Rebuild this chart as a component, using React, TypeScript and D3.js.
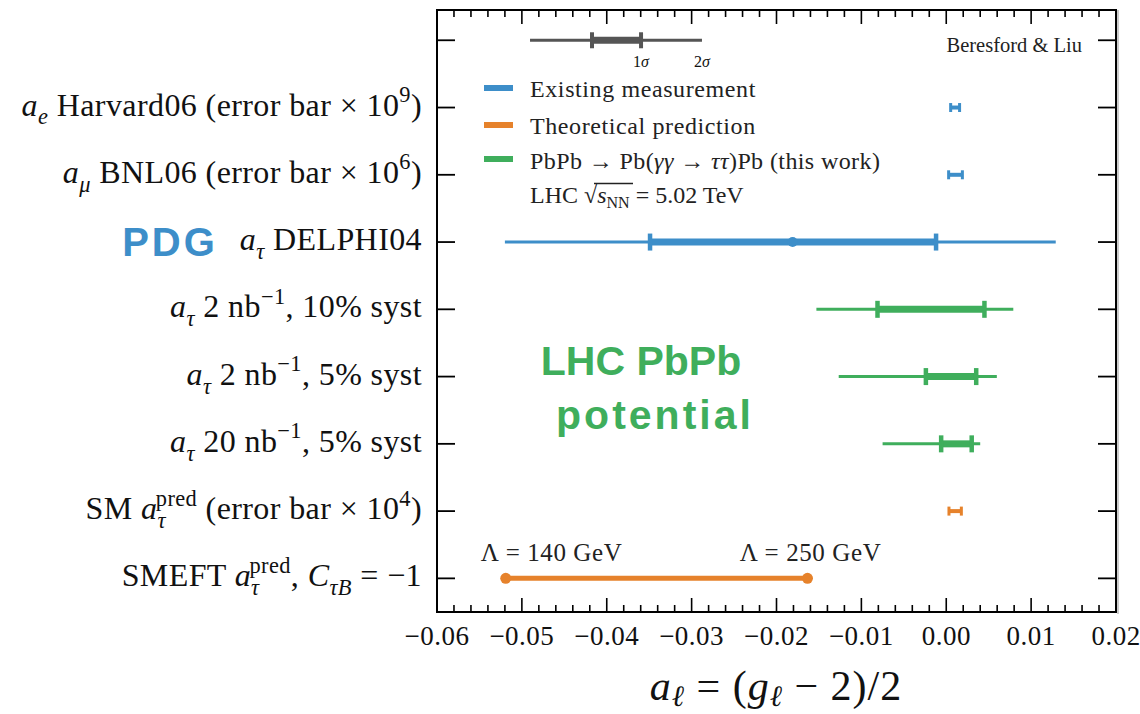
import React from "react";
import * as d3 from "d3";

// ---------- data ----------
const xTicks = [-0.06, -0.05, -0.04, -0.03, -0.02, -0.01, 0.0, 0.01, 0.02];
const xTickLabels = ["\u22120.06", "\u22120.05", "\u22120.04", "\u22120.03", "\u22120.02", "\u22120.01", "0.00", "0.01", "0.02"];
const rowTicks = [0, 1, 2, 3, 4, 5, 6, 7, 8];

// error-bar rows: 1 ae, 2 amu, 3 DELPHI, 4-6 LHC projections, 7 SM prediction
const barRows = [1, 2, 3, 4, 5, 6, 7];
const barSeries = ["meas", "meas", "meas", "lhc", "lhc", "lhc", "theo"];
const barStyle = ["small", "small", "full", "full", "full", "full", "small"];
const barCenter = [null, null, -0.0181, null, null, null, null];
const innerLo = [0.00052, 0.00028, -0.0349, -0.0081, -0.0024, -0.0006, 0.00032];
const innerHi = [0.00157, 0.0019, -0.0012, 0.0045, 0.00353, 0.003, 0.00178];
const outerLo = [null, null, -0.052, -0.0153, -0.01267, -0.0075, null];
const outerHi = [null, null, 0.0129, 0.0079, 0.00596, 0.004, null];

// SMEFT band (row 8)
const smeftRow = 8;
const smeftLo = -0.0519;
const smeftHi = -0.01635;

// sigma legend (row 0)
const sigmaOuter = [-0.04904, -0.02878];
const sigmaInner = [-0.04174, -0.03596];

const seriesColor: Record<string, string> = { meas: "#3d8ec9", theo: "#e6822b", lhc: "#3fae5c" };
const legendNames = ["Existing measurement", "Theoretical prediction"];

type Seg = { t: string; it?: boolean; sub?: boolean; sup?: boolean; dx?: number };
const rowLabels: Seg[][] = [
  [{ t: "a", it: true }, { t: "e", it: true, sub: true }, { t: " Harvard06 (error bar \u00d7 10" }, { t: "9", sup: true }, { t: ")" }],
  [{ t: "a", it: true }, { t: "\u03bc", it: true, sub: true }, { t: " BNL06 (error bar \u00d7 10" }, { t: "6", sup: true }, { t: ")" }],
  [{ t: "a", it: true }, { t: "\u03c4", it: true, sub: true }, { t: " DELPHI04" }],
  [{ t: "a", it: true }, { t: "\u03c4", it: true, sub: true }, { t: " 2 nb" }, { t: "\u22121", sup: true }, { t: ",  10% syst" }],
  [{ t: "a", it: true }, { t: "\u03c4", it: true, sub: true }, { t: " 2 nb" }, { t: "\u22121", sup: true }, { t: ",  5% syst" }],
  [{ t: "a", it: true }, { t: "\u03c4", it: true, sub: true }, { t: " 20 nb" }, { t: "\u22121", sup: true }, { t: ",  5% syst" }],
  [{ t: "SM " }, { t: "a", it: true }, { t: "\u03c4", it: true, sub: true }, { t: "pred", sup: true, dx: -10 }, { t: " (error bar \u00d7 10" }, { t: "4", sup: true }, { t: ")" }],
  [{ t: "SMEFT " }, { t: "a", it: true }, { t: "\u03c4", it: true, sub: true }, { t: "pred", sup: true, dx: -10 }, { t: ",  " }, { t: "C", it: true }, { t: "\u03c4B", it: true, sub: true }, { t: " = \u22121" }],
];

const SERIF = "'Liberation Serif', 'DejaVu Serif', serif";
const SANS = "'Liberation Sans', Arial, sans-serif";

function Rich({ parts, x, y, size, anchor = "end", subShift = 0.28, spacing = 0 }: { parts: Seg[]; x: number; y: number; size: number; anchor?: string; subShift?: number; spacing?: number }) {
  let cur = 0;
  return (
    <text x={x} y={y} textAnchor={anchor} fontFamily={SERIF} fontSize={size} fill="#111" letterSpacing={spacing}>
      {parts.map((p, i) => {
        const target = p.sub ? size * subShift : p.sup ? -size * 0.42 : 0;
        const dy = target - cur;
        cur = target;
        return (
          <tspan key={i} dy={dy} dx={p.dx ?? 0} fontSize={p.sub || p.sup ? size * 0.7 : size} fontStyle={p.it ? "italic" : "normal"}>
            {p.t}
          </tspan>
        );
      })}
    </text>
  );
}

export default function App() {
  const W = 1140, H = 714;
  const left = 437, right = 1116, top = 10, bottom = 612;
  const x = d3.scaleLinear().domain([-0.06, 0.02]).range([left, right]);
  const y = d3.scaleLinear().domain([-0.45, 8.5]).range([top, bottom]);
  const minor = d3.range(-0.06, 0.02001, 0.002);

  return (
    <svg width={W} height={H} style={{ position: "absolute", left: 0, top: 0, background: "#fff" }}>
      {/* ticks */}
      {minor.map((v, i) => {
        const major = i % 5 === 0;
        const len = major ? 14 : 7;
        return (
          <g key={"m" + i} stroke="#000" strokeWidth={1.6}>
            <line x1={x(v)} x2={x(v)} y1={bottom} y2={bottom - len} />
            <line x1={x(v)} x2={x(v)} y1={top} y2={top + len} />
          </g>
        );
      })}
      {rowTicks.map((r) => (
        <g key={"r" + r} stroke="#000" strokeWidth={1.8}>
          <line x1={left} x2={left + 18} y1={y(r)} y2={y(r)} />
          <line x1={right} x2={right - 18} y1={y(r)} y2={y(r)} />
        </g>
      ))}
      <rect x={left} y={top} width={right - left} height={bottom - top} fill="none" stroke="#000" strokeWidth={2} />
      <line x1={right + 2} x2={right + 2} y1={top} y2={bottom + 2} stroke="#bbb" strokeWidth={1.5} />

      {/* x tick labels */}
      {xTicks.map((v, i) => (
        <text key={"xl" + i} x={x(v)} y={645} textAnchor="middle" fontFamily={SERIF} fontSize={27} letterSpacing={0.5} fill="#111">
          {xTickLabels[i]}
        </text>
      ))}
      {/* x axis title */}
      <Rich
        parts={[{ t: "a", it: true }, { t: "\u2113", it: true, sub: true }, { t: " = (" }, { t: "g", it: true }, { t: "\u2113", it: true, sub: true }, { t: " \u2212 2)/2" }]}
        x={776}
        y={700}
        size={42}
        anchor="middle"
        subShift={0.15}
        spacing={1}
      />

      {/* row labels */}
      {rowLabels.map((parts, i) => (
        <Rich key={"rl" + i} parts={parts} x={422} y={y(i + 1) + 8} size={32} spacing={0.4} />
      ))}
      <text x={170} y={y(3) + 14} textAnchor="middle" fontFamily={SANS} fontWeight="bold" fontSize={40} letterSpacing={3} fill="#3d8ec9">
        PDG
      </text>
      <text x={641} y={y(4.75) + 15} textAnchor="middle" fontFamily={SANS} fontWeight="bold" fontSize={41} fill="#3fae5c">
        LHC PbPb
      </text>
      <text x={655} y={y(5.55) + 15} textAnchor="middle" fontFamily={SANS} fontWeight="bold" fontSize={41} letterSpacing={3} fill="#3fae5c">
        potential
      </text>

      {/* sigma legend */}
      <g stroke="#555">
        <line x1={x(sigmaOuter[0])} x2={x(sigmaOuter[1])} y1={y(0)} y2={y(0)} strokeWidth={3} />
        <line x1={x(sigmaInner[0])} x2={x(sigmaInner[1])} y1={y(0)} y2={y(0)} strokeWidth={7} />
        <line x1={x(sigmaInner[0])} x2={x(sigmaInner[0])} y1={y(0) - 8} y2={y(0) + 8} strokeWidth={4} />
        <line x1={x(sigmaInner[1])} x2={x(sigmaInner[1])} y1={y(0) - 8} y2={y(0) + 8} strokeWidth={4} />
      </g>
      <Rich parts={[{ t: "1" }, { t: "\u03c3", it: true }]} x={x(sigmaInner[1])} y={67} size={16} anchor="middle" />
      <Rich parts={[{ t: "2" }, { t: "\u03c3", it: true }]} x={x(sigmaOuter[1])} y={67} size={16} anchor="middle" />
      <text x={1082} y={52} textAnchor="end" fontFamily={SERIF} fontSize={20.5} fill="#222">
        Beresford &amp; Liu
      </text>

      {/* legend */}
      {["meas", "theo", "lhc"].map((s, i) => (
        <rect key={"lg" + s} x={484} y={[88, 125, 159][i] - 3} width={29} height={6} fill={seriesColor[s]} />
      ))}
      {legendNames.map((n, i) => (
        <text key={"ln" + i} x={530} y={[97, 134][i]} fontFamily={SERIF} fontSize={24} letterSpacing={0.6} fill="#222">
          {n}
        </text>
      ))}
      <text x={530} y={169} fontFamily={SERIF} fontSize={24} letterSpacing={0.4} fill="#222">
        PbPb {"\u2192"} Pb(<tspan fontStyle="italic">{"\u03b3\u03b3"}</tspan> {"\u2192"} <tspan fontStyle="italic">{"\u03c4\u03c4"}</tspan>)Pb (this work)
      </text>
      <text x={530} y={203} fontFamily={SERIF} fontSize={24} fill="#222">
        LHC {"\u221a"}
        <tspan fontStyle="italic">s</tspan>
        <tspan fontSize={16} dy={5}>NN</tspan>
        <tspan dy={-5}> = 5.02 TeV</tspan>
      </text>
      <line x1={594} x2={633} y1={183.5} y2={183.5} stroke="#222" strokeWidth={1.3} />

      {/* error bars */}
      {barRows.map((r, i) => {
        const c = seriesColor[barSeries[i]];
        const yc = y(r);
        if (barStyle[i] === "small") {
          return (
            <g key={"b" + i} stroke={c}>
              <line x1={x(innerLo[i])} x2={x(innerHi[i])} y1={yc} y2={yc} strokeWidth={4} />
              <line x1={x(innerLo[i])} x2={x(innerLo[i])} y1={yc - 4.5} y2={yc + 4.5} strokeWidth={3} />
              <line x1={x(innerHi[i])} x2={x(innerHi[i])} y1={yc - 4.5} y2={yc + 4.5} strokeWidth={3} />
            </g>
          );
        }
        return (
          <g key={"b" + i} stroke={c}>
            <line x1={x(outerLo[i] as number)} x2={x(outerHi[i] as number)} y1={yc} y2={yc} strokeWidth={3} />
            <line x1={x(innerLo[i])} x2={x(innerHi[i])} y1={yc} y2={yc} strokeWidth={7} />
            <line x1={x(innerLo[i])} x2={x(innerLo[i])} y1={yc - 8.5} y2={yc + 8.5} strokeWidth={4.5} />
            <line x1={x(innerHi[i])} x2={x(innerHi[i])} y1={yc - 8.5} y2={yc + 8.5} strokeWidth={4.5} />
            {barCenter[i] !== null && <circle cx={x(barCenter[i] as number)} cy={yc} r={5} fill={c} stroke="none" />}
          </g>
        );
      })}

      {/* SMEFT */}
      <g>
        <line x1={x(smeftLo)} x2={x(smeftHi)} y1={y(smeftRow)} y2={y(smeftRow)} stroke={seriesColor.theo} strokeWidth={5} />
        <circle cx={x(smeftLo)} cy={y(smeftRow)} r={5.5} fill={seriesColor.theo} />
        <circle cx={x(smeftHi)} cy={y(smeftRow)} r={5.5} fill={seriesColor.theo} />
      </g>
      <text x={x(smeftLo) - 25} y={561} fontFamily={SERIF} fontSize={25} letterSpacing={0.6} fill="#222">
        {"\u039b = 140 GeV"}
      </text>
      <text x={x(smeftHi) + 3} y={561} textAnchor="middle" fontFamily={SERIF} fontSize={25} letterSpacing={0.6} fill="#222">
        {"\u039b = 250 GeV"}
      </text>
    </svg>
  );
}
